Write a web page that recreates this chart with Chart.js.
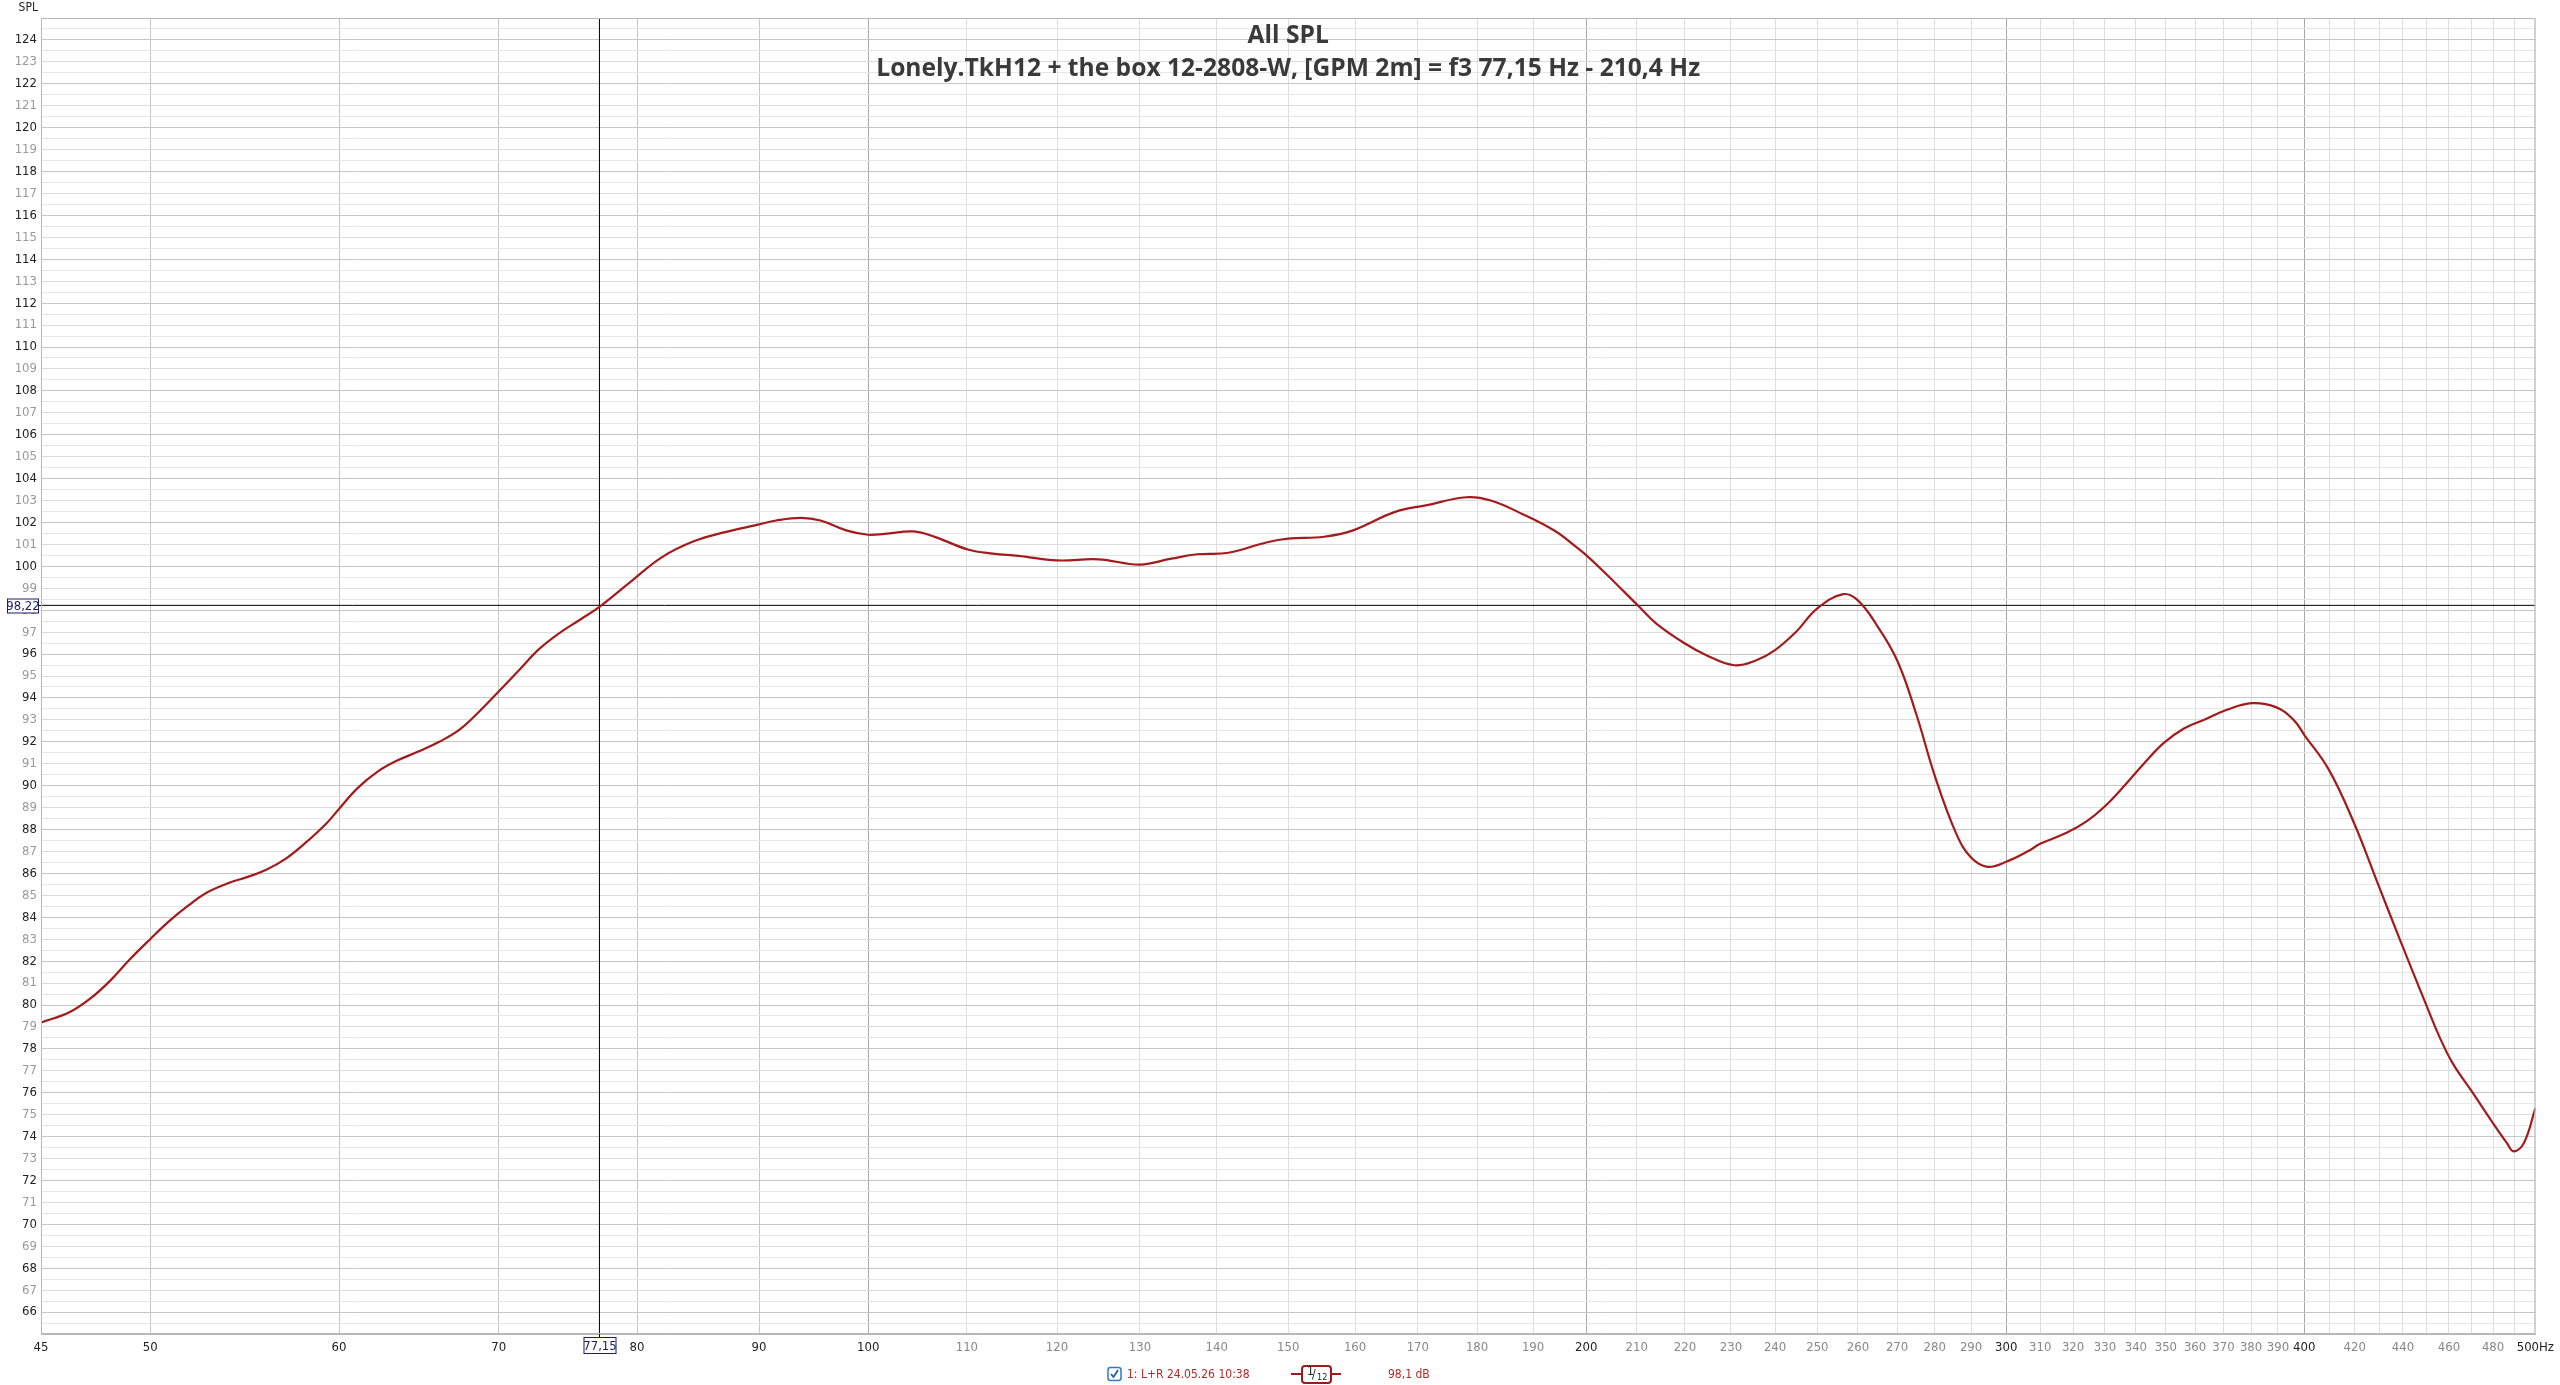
<!DOCTYPE html>
<html>
<head>
<meta charset="utf-8">
<script src="https://cdn.jsdelivr.net/npm/chart.js@4.4.0/dist/chart.umd.min.js"></script>
<style>
    html, body { margin: 0; padding: 0; background: #fff; }
    #wrap { width: 2560px; height: 1385px; position: relative; }
</style>
</head>
<body>
<div id="wrap"><canvas id="splChart"></canvas></div>
<script>
    const freqHz = [
        45, 46.25, 47.2, 48.1, 49.0, 50, 50.9, 51.9, 52.8, 53.9, 54.9, 55.9, 57.0, 58.1, 59.3,
        60, 61.1, 62.3, 63.4, 64.7, 66.1, 67.4, 68.7, 70, 71.4, 72.7, 74.1, 75.8, 77.15,
        79.5, 81.9, 84.5, 87.1, 89.9, 91.5, 93.7, 95.5, 97.9, 100, 101.6, 104.5, 106.7,
        110.1, 112.8, 115.6, 120, 124.9, 130, 134, 137.4, 141.6, 147, 150, 155.3, 159.7,
        166.2, 171.5, 178.2, 182.4, 188, 194, 198, 200, 204, 210.3, 214, 220, 224.6, 230.7,
        235.7, 240, 244.9, 250, 256.3, 259.9, 264.5, 270, 275, 280.1, 285.9, 290, 294.6,
        300, 306.6, 310, 318, 324.3, 330, 336.6, 342.3, 349.2, 356.3, 363.6, 371, 380.3,
        389.2, 395.9, 400, 409.6, 419.7, 429.3, 439, 450.6, 455.7, 461.6, 470.7,
        479.9, 486.4, 489.6, 494.5, 500
    ];
    const splDb = [
        79.2, 79.67, 80.3, 81.1, 82.05, 83.0, 83.8, 84.55, 85.12, 85.55, 85.83, 86.15, 86.67, 87.4, 88.3,
        88.94, 89.9, 90.65, 91.12, 91.53, 92.0, 92.55, 93.38, 94.29, 95.27, 96.18, 96.9, 97.6, 98.15,
        99.29, 100.4, 101.14, 101.56, 101.9, 102.09, 102.21, 102.09, 101.64, 101.44, 101.48, 101.59, 101.33,
        100.77, 100.58, 100.48, 100.27, 100.32, 100.08, 100.35, 100.55, 100.62, 101.1, 101.26, 101.35, 101.64,
        102.47, 102.79, 103.15, 103.0, 102.39, 101.62, 100.9, 100.51, 99.63, 98.2, 97.39, 96.48, 95.95, 95.49,
        95.72, 96.18, 97.01, 98.08, 98.73, 98.46, 97.39, 95.72, 93.29, 90.4, 87.8, 86.72, 86.3,
        86.53, 87.03, 87.35, 87.85, 88.38, 89.06, 90.05, 90.95, 91.94, 92.62, 93.03, 93.45, 93.76,
        93.58, 93.0, 92.32, 90.73, 88.3, 85.58, 82.9, 79.85, 78.57, 77.35, 75.99,
        74.62, 73.71, 73.33, 73.71, 75.3
    ];

    const xTickValues = [
        45, 50, 60, 70, 80, 90,
        100, 110, 120, 130, 140, 150, 160, 170, 180, 190,
        200, 210, 220, 230, 240, 250, 260, 270, 280, 290,
        300, 310, 320, 330, 340, 350, 360, 370, 380, 390,
        400, 410, 420, 430, 440, 450, 460, 470, 480, 490, 500
    ];
    const xUnlabelled = [410, 430, 450, 470, 490];
    const xDecadeLines = [100, 200, 300, 400];

    const yTickValues = [];
    for (let v = 65; v <= 125; v += 0.5) yTickValues.push(v);

    const cursorHz = 77.15;
    const cursorDb = 98.22;
    const cursorReadout = '98,1 dB';

    const titleLines = ['All SPL', 'Lonely.TkH12 + the box 12-2808-W, [GPM 2m] = f3 77,15 Hz - 210,4 Hz'];
    const legendName = '1: L+R 24.05.26 10:38';

    const tickFont = '"Liberation Sans Narrow", "DejaVu Sans Condensed", sans-serif';

    const canvas = document.getElementById('splChart');
    canvas.width = 2560;
    canvas.height = 1385;

    // title, cursor boxes and legend row, REW style
    const rewOverlay = {
        id: 'rewOverlay',
        afterDraw(chart) {
            const c = chart.ctx;
            const area = chart.chartArea;
            const xs = chart.scales.x;
            const ys = chart.scales.y;
            c.save();

            // frame
            c.strokeStyle = '#b8b8b8';
            c.lineWidth = 1;
            c.strokeRect(area.left + 0.5, area.top + 0.5, area.right - area.left - 1, area.bottom - area.top - 1);

            // title
            c.fillStyle = '#3a3a3a';
            c.textAlign = 'center';
            c.textBaseline = 'middle';
            const cx = (area.left + area.right) / 2;
            c.font = 'bold 100px "Open Sans", sans-serif';
            const w100 = c.measureText(titleLines[1]).width;
            const size = Math.round(100 * 823 / w100 * 10) / 10;
            c.font = 'bold ' + size + 'px "Open Sans", sans-serif';
            c.fillText(titleLines[0], cx, 36);
            c.fillText(titleLines[1], cx, 69);

            // SPL unit label
            c.font = '12px ' + tickFont;
            c.fillStyle = '#222';
            c.textAlign = 'right';
            c.fillText('SPL', 38, 8);

            // cursor boxes
            const py = Math.round(ys.getPixelForValue(cursorDb)) + 0.5;
            const px = Math.round(xs.getPixelForValue(cursorHz)) + 0.5;
            c.strokeStyle = '#000';
            c.lineWidth = 1;
            c.beginPath();
            c.moveTo(38, py); c.lineTo(area.left, py);
            c.stroke();

            c.font = '13px ' + tickFont;
            c.textAlign = 'center';
            const boxY = (label, x, y, w, h) => {
                c.fillStyle = '#fff';
                c.fillRect(x, y, w, h);
                c.strokeStyle = '#1c1c64';
                c.lineWidth = 1;
                c.strokeRect(x + 0.5, y + 0.5, w - 1, h - 1);
                c.fillStyle = '#1c1c64';
                c.fillText(label, x + w / 2, y + h / 2 + 1);
            };
            boxY('98,22', 7, py - 7, 32, 15);
            c.strokeStyle = '#000';
            c.beginPath();
            c.moveTo(px, area.bottom); c.lineTo(px, area.bottom + 3);
            c.stroke();
            boxY('77,15', px - 16, area.bottom + 3, 33, 17);

            // legend row
            const ly = 1374;
            c.fillStyle = '#fff';
            c.strokeStyle = '#2d7cc4';
            c.lineWidth = 1.5;
            c.beginPath();
            c.roundRect(1108, ly - 6.5, 13, 13, 2.5);
            c.fill();
            c.stroke();
            c.strokeStyle = '#1d63a8';
            c.lineWidth = 1.8;
            c.beginPath();
            c.moveTo(1111, ly);
            c.lineTo(1113.5, ly + 3);
            c.lineTo(1118, ly - 4);
            c.stroke();

            c.font = '12px ' + tickFont;
            c.textAlign = 'left';
            c.fillStyle = '#b22a2a';
            c.fillText(legendName, 1127, ly + 1);

            c.strokeStyle = '#9e1a1a';
            c.lineWidth = 2;
            c.beginPath();
            c.moveTo(1291, ly); c.lineTo(1341, ly);
            c.stroke();
            c.fillStyle = '#fff';
            c.beginPath();
            c.roundRect(1302, ly - 8, 29, 17, 3);
            c.fill();
            c.stroke();
            c.fillStyle = '#222';
            c.font = '12px ' + tickFont;
            c.fillText('1', 1307, ly - 2);
            c.fillText('/', 1312, ly + 1);
            c.font = '9px ' + tickFont;
            c.fillText('12', 1317, ly + 4);

            c.font = '12px ' + tickFont;
            c.fillStyle = '#b22a2a';
            c.fillText(cursorReadout, 1388, ly + 1);

            c.restore();
        }
    };

    new Chart(canvas, {
        type: 'line',
        data: {
            datasets: [
                {
                    label: legendName,
                    data: freqHz.map((f, i) => ({ x: f, y: splDb[i] })),
                    borderColor: '#a31b1b',
                    borderWidth: 2.2,
                    pointRadius: 0,
                    tension: 0.4,
                    order: 0
                },
                {
                    label: 'cursor f',
                    data: [{ x: cursorHz, y: 65 }, { x: cursorHz, y: 125 }],
                    borderColor: '#000',
                    borderWidth: 1,
                    pointRadius: 0,
                    order: 1
                },
                {
                    label: 'cursor spl',
                    data: [{ x: 45, y: cursorDb }, { x: 500, y: cursorDb }],
                    borderColor: '#000',
                    borderWidth: 1,
                    pointRadius: 0,
                    order: 1
                }
            ]
        },
        options: {
            responsive: false,
            animation: false,
            layout: {
                padding: { top: 18, right: 21, left: 0, bottom: 0 }
            },
            plugins: {
                legend: { display: false },
                title: { display: false },
                tooltip: { enabled: false }
            },
            scales: {
                x: {
                    type: 'logarithmic',
                    min: 45,
                    max: 500,
                    afterBuildTicks: (scale) => {
                        scale.ticks = xTickValues.map(v => ({ value: v }));
                    },
                    afterFit: (scale) => { scale.height = 51; },
                    ticks: {
                        autoSkip: false,
                        maxRotation: 0,
                        padding: 6,
                        font: { family: tickFont, size: 13 },
                        color: (ctx) => {
                            const v = ctx.tick.value;
                            return (v < 100 || v % 100 === 0) ? '#222' : '#888';
                        },
                        callback: (value) => {
                            if (xUnlabelled.includes(value)) return '';
                            if (value === 500) return '500Hz';
                            return String(value);
                        }
                    },
                    grid: {
                        drawTicks: false,
                        tickLength: 0,
                        lineWidth: 1,
                        color: (ctx) => {
                            const v = ctx.tick.value;
                            if (xDecadeLines.includes(v)) return '#a9a9a9';
                            if (v < 100) return '#c6c6c6';
                            return '#dedede';
                        }
                    },
                    border: { display: true, color: '#b8b8b8' }
                },
                y: {
                    type: 'linear',
                    min: 65,
                    max: 125,
                    afterBuildTicks: (scale) => {
                        scale.ticks = yTickValues.map(v => ({ value: v }));
                    },
                    afterFit: (scale) => { scale.width = 41; },
                    ticks: {
                        autoSkip: false,
                        padding: 4,
                        font: { family: tickFont, size: 13 },
                        color: (ctx) => (ctx.tick.value % 2 === 0 ? '#222' : '#999'),
                        callback: (value) => {
                            if (!Number.isInteger(value) || value === 65 || value === 125) return '';
                            return String(value);
                        }
                    },
                    grid: {
                        drawTicks: false,
                        tickLength: 0,
                        lineWidth: 1,
                        color: (ctx) => {
                            const v = ctx.tick.value;
                            if (!Number.isInteger(v)) return '#e6e6e6';
                            return v % 2 === 0 ? '#c6c6c6' : '#dcdcdc';
                        }
                    },
                    border: { display: true, color: '#b8b8b8' }
                }
            }
        },
        plugins: [rewOverlay]
    });
</script>
</body>
</html>
